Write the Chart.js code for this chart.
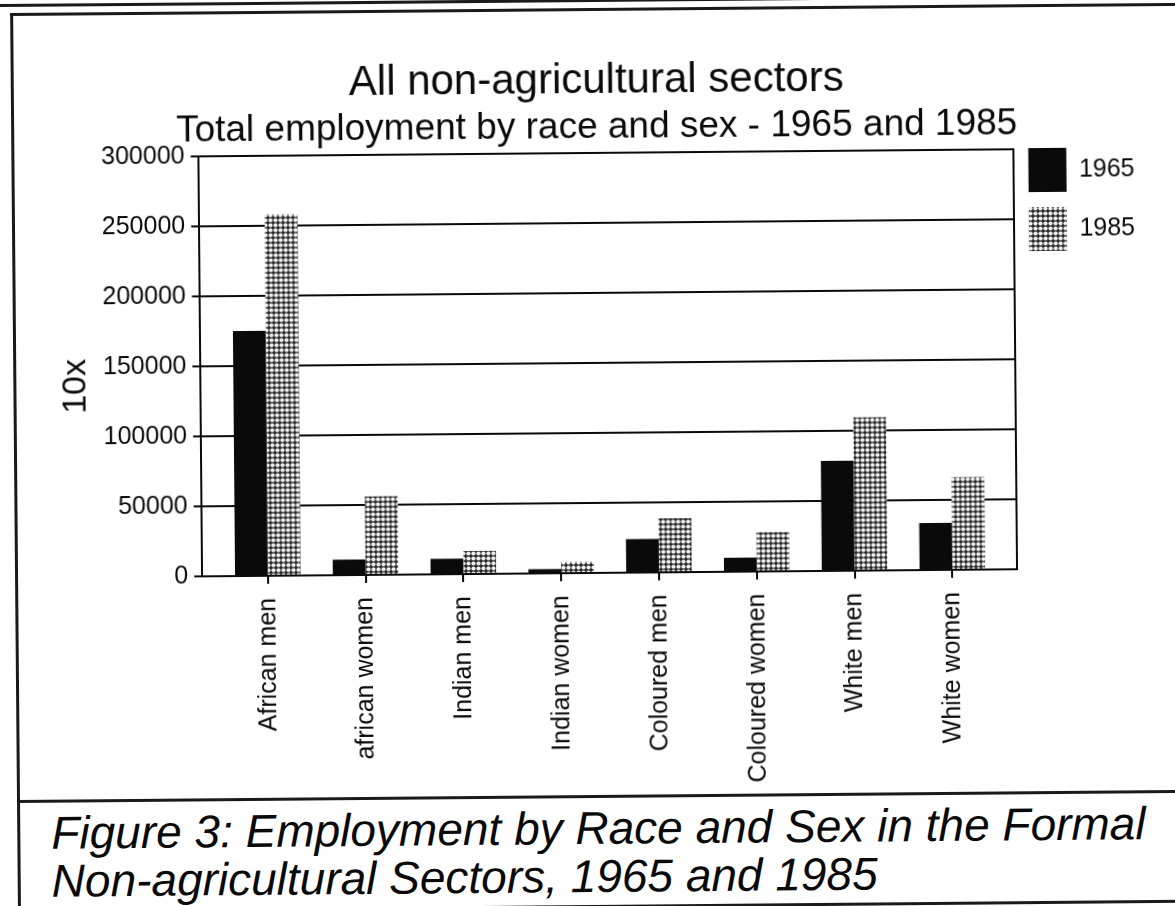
<!DOCTYPE html>
<html lang="en">
  <head>
    <meta charset="UTF-8" />
    <meta name="viewport" content="width=device-width, initial-scale=1.0" />
    <title>Employment by Race and Sex</title>
    <style>
      * {
        box-sizing: border-box;
        margin: 0;
        padding: 0;
      }
      html,
      body {
        width: 1175px;
        height: 906px;
        overflow: hidden;
        background: #fff;
      }
      #sheet {
        position: absolute;
        left: 0;
        top: 0;
        width: 1175px;
        height: 906px;
        transform: rotate(-0.5deg);
        transform-origin: 587.5px 453px;
        font-family: "Liberation Sans", Arial, sans-serif;
        color: #0a0a0a;
      }
      .rule {
        position: absolute;
        background: #1a1a1a;
      }
      #frame {
        position: absolute;
        left: 14px;
        top: 8px;
        width: 1220px;
        height: 900px;
        border: 3px solid #1a1a1a;
        border-right: none;
      }
      #chart {
        position: absolute;
        left: 20px;
        top: 20px;
      }
      #caption {
        position: absolute;
        left: 48px;
        top: 804px;
        font-size: 46px;
        line-height: 48px;
        font-style: italic;
        white-space: nowrap;
      }
    </style>
  </head>
  <body>
    <div id="sheet">
      <div class="rule" style="left: 0; top: -1px; width: 1220px; height: 3px"></div>
      <div id="frame"></div>
      <canvas id="chart" width="1168" height="782"></canvas>
      <div class="rule" style="left: 14px; top: 795px; width: 1220px; height: 3px"></div>
      <div id="caption">
        Figure 3: Employment by Race and Sex in the Formal<br />
        Non-agricultural Sectors, 1965 and 1985
      </div>
    </div>

    <script src="https://cdn.jsdelivr.net/npm/chart.js"></script>
    <script>
      const categories = [
        "African men",
        "african women",
        "Indian men",
        "Indian women",
        "Coloured men",
        "Coloured women",
        "White men",
        "White women",
      ];
      const years = ["1965", "1985"];
      const employment1965 = [175000, 11000, 11000, 3000, 24000, 10000, 78500, 33500];
      const employment1985 = [258000, 56000, 16500, 8000, 38500, 28000, 109500, 66000];
      const yTicks = [0, 50000, 100000, 150000, 200000, 250000, 300000];

      const ink = "#0a0a0a";
      const family = "'Liberation Sans', Arial, sans-serif";
      const smallFont = { family: family, size: 25 };
      Chart.defaults.font.family = family;

      // halftone fill used for the 1985 bars
      function dotPattern() {
        const tile = document.createElement("canvas");
        tile.width = 5;
        tile.height = 5;
        const c = tile.getContext("2d");
        c.fillStyle = "#2a2a2a";
        c.fillRect(0, 0, 5, 5);
        c.fillStyle = "#f0f0f0";
        c.beginPath();
        c.arc(2.5, 2.5, 2.1, 0, Math.PI * 2);
        c.fill();
        return c.createPattern(tile, "repeat");
      }

      const toPoints = (values) => values.map((v, i) => ({ x: i, y: v }));

      new Chart(document.getElementById("chart").getContext("2d"), {
        type: "bar",
        data: {
          datasets: [
            {
              label: years[0],
              data: toPoints(employment1965),
              backgroundColor: ink,
              borderWidth: 0,
            },
            {
              label: years[1],
              data: toPoints(employment1985),
              backgroundColor: dotPattern(),
              borderWidth: 0,
            },
          ],
        },
        options: {
          responsive: false,
          animation: false,
          categoryPercentage: 0.67,
          barPercentage: 1,
          layout: { padding: { left: 32, right: 41, top: 0, bottom: 4 } },
          plugins: {
            title: {
              display: true,
              text: "All non-agricultural sectors",
              color: ink,
              font: { size: 42, weight: "normal", lineHeight: 1 },
              padding: { top: 40, bottom: 4 },
            },
            subtitle: {
              display: true,
              text: "Total employment by race and sex - 1965 and 1985",
              color: ink,
              font: { size: 37, lineHeight: 1 },
              padding: { top: 3, bottom: 7 },
            },
            legend: {
              position: "right",
              align: "start",
              // empty title only pushes the swatches down to the plot top
              title: {
                display: true,
                text: "",
                font: { size: 10, lineHeight: 1 },
                padding: { top: 107, bottom: 0 },
              },
              labels: {
                boxWidth: 38,
                boxHeight: 44,
                padding: 15,
                color: ink,
                font: smallFont,
              },
            },
            tooltip: { enabled: false },
          },
          scales: {
            x: {
              type: "linear",
              min: -0.67,
              max: 7.66,
              bounds: "data",
              offset: false,
              afterBuildTicks: (axis) => {
                axis.ticks = categories.map((_, i) => ({ value: i }));
              },
              grid: {
                offset: false,
                drawOnChartArea: false,
                drawTicks: true,
                tickLength: 8,
                color: ink,
                lineWidth: 2,
              },
              border: { color: ink, width: 2 },
              ticks: {
                autoSkip: false,
                minRotation: 90,
                maxRotation: 90,
                padding: 14,
                color: ink,
                font: smallFont,
                callback: (v) => categories[v],
              },
            },
            y: {
              min: 0,
              max: 300000,
              afterBuildTicks: (axis) => {
                axis.ticks = yTicks.map((v) => ({ value: v }));
              },
              title: {
                display: true,
                text: "10x    ",
                color: ink,
                font: { size: 34 },
                padding: { top: 4, bottom: 1 },
              },
              grid: { color: ink, lineWidth: 2, tickLength: 8 },
              border: { color: ink, width: 2 },
              ticks: {
                padding: 6,
                color: ink,
                font: smallFont,
                callback: (v) => String(v),
              },
            },
            // right-hand frame of the plot
            y2: {
              position: "right",
              min: 0,
              max: 300000,
              grid: { display: false, drawTicks: false },
              ticks: { display: false },
              border: { color: ink, width: 2 },
            },
          },
        },
      });
    </script>
  </body>
</html>
